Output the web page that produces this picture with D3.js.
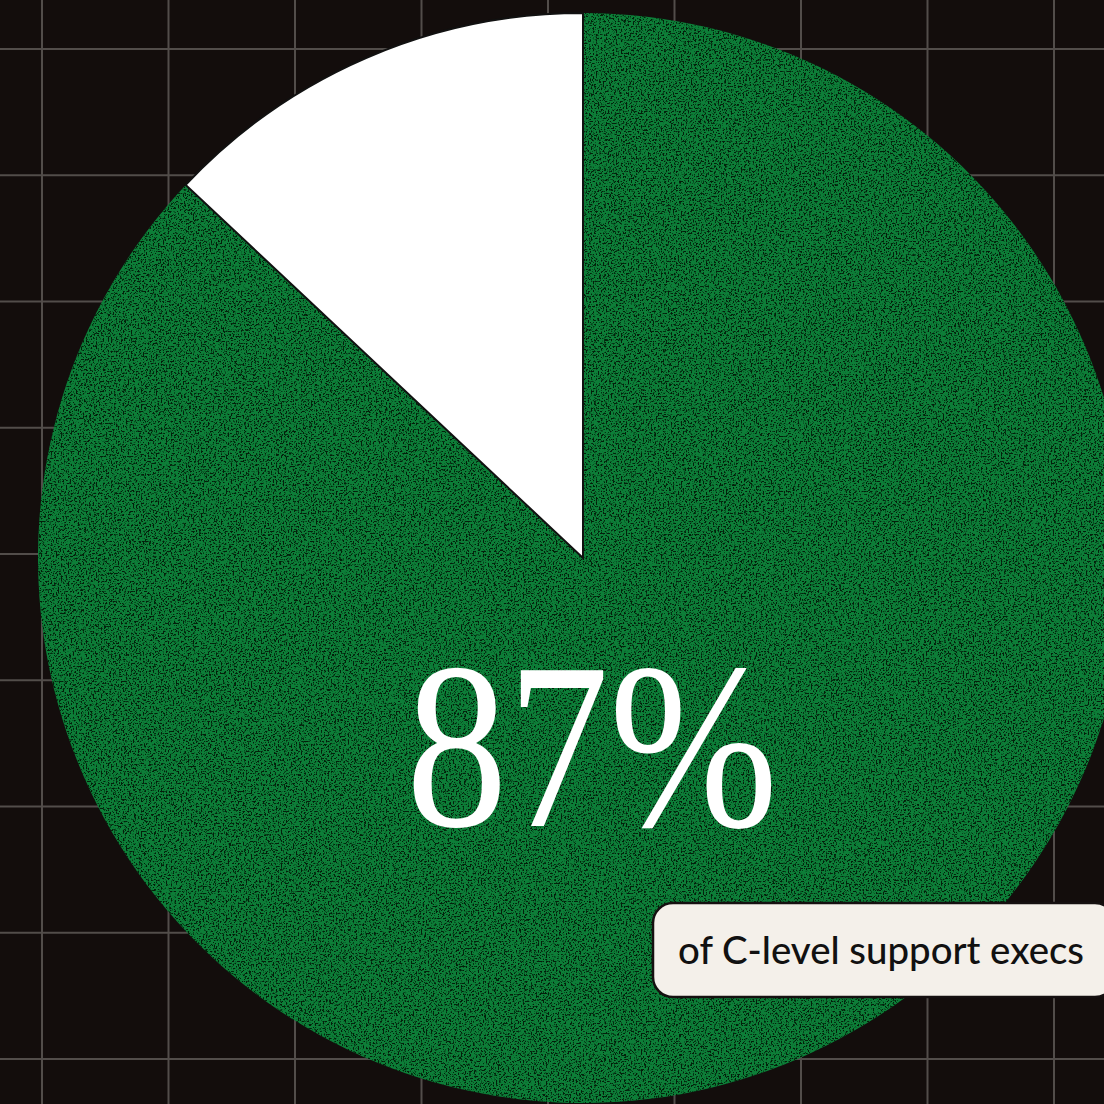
<!DOCTYPE html>
<html>
<head>
<meta charset="utf-8">
<script src="https://cdn.jsdelivr.net/npm/d3@7"></script>
<style>
html,body{margin:0;padding:0;background:#130d0c;}
svg{display:block;}
</style>
</head>
<body>
<svg id="chart" width="1104" height="1104"></svg>
<script>
const categories = ["C-level support execs", "Others"];
const values = [87, 13];
const headline = "87%";
const caption = "of C-level support execs";
const gridX = [0, 1, 2, 3, 4, 5, 6, 7, 8];
const gridY = [0, 1, 2, 3, 4, 5, 6, 7, 8];

const W = 1104, H = 1104;
const svg = d3.select("#chart");
const defs = svg.append("defs");

const f = defs.append("filter").attr("id", "grain")
  .attr("color-interpolation-filters", "sRGB")
  .attr("x", 0).attr("y", 0).attr("width", 1).attr("height", 1);
f.append("feTurbulence").attr("type", "fractalNoise").attr("baseFrequency", 0.6)
  .attr("numOctaves", 2).attr("seed", 4).attr("result", "n");
f.append("feColorMatrix").attr("in", "n").attr("type", "matrix")
  .attr("values", "0 0 0 0 0.01  0 0 0 0 0.12  0 0 0 0 0.04  -7 0 0 0 3.4").attr("result", "dark");
f.append("feComposite").attr("in", "dark").attr("in2", "SourceGraphic").attr("operator", "in").attr("result", "d2");
const m = f.append("feMerge");
m.append("feMergeNode").attr("in", "SourceGraphic");
m.append("feMergeNode").attr("in", "d2");

svg.append("rect").attr("width", W).attr("height", H).attr("fill", "#130d0c");

// grid
const gx = d3.scaleLinear().domain([0, 8]).range([42, 1054]);
const gy = d3.scaleLinear().domain([0, 8]).range([49, 1059]);
const grid = svg.append("g").attr("stroke", "#524d4a").attr("stroke-width", 2);
grid.selectAll("line.v").data(gridX).join("line").attr("class", "v")
  .attr("x1", d => gx(d)).attr("x2", d => gx(d)).attr("y1", 0).attr("y2", H);
grid.selectAll("line.h").data(gridY).join("line").attr("class", "h")
  .attr("y1", d => gy(d)).attr("y2", d => gy(d)).attr("x1", 0).attr("x2", W);

// pie
const cx = 583, cy = 558, R = 545;
const pie = d3.pie().sort(null).value(d => d)(values);
const arc = d3.arc().innerRadius(0).outerRadius(R);
const colors = d3.scaleOrdinal().domain(categories).range(["#0d7e38", "#ffffff"]);
const g = svg.append("g").attr("transform", `translate(${cx},${cy})`);
g.selectAll("path").data(pie).join("path")
  .attr("d", arc)
  .attr("fill", (d, i) => colors(categories[i]))
  .attr("filter", (d, i) => i === 0 ? "url(#grain)" : null)
  .attr("stroke", (d, i) => i === 1 ? "#111" : "none")
  .attr("stroke-width", 2);

// headline
svg.append("text")
  .attr("x", 406).attr("y", 826)
  .attr("textLength", 372).attr("lengthAdjust", "spacingAndGlyphs")
  .attr("font-family", "'Liberation Serif', 'DejaVu Serif', serif")
  .attr("font-size", 238)
  .attr("fill", "#ffffff")
  .text(headline);

// caption box
const box = svg.append("g");
box.append("rect")
  .attr("x", 653).attr("y", 903).attr("width", 462).attr("height", 94)
  .attr("rx", 20).attr("ry", 20)
  .attr("fill", "#f4f0ea").attr("stroke", "#151010").attr("stroke-width", 2.5);
box.append("text")
  .attr("x", 678).attr("y", 964)
  .attr("textLength", 406).attr("lengthAdjust", "spacingAndGlyphs")
  .attr("font-family", "Lato, 'Noto Sans', sans-serif")
  .attr("font-size", 39)
  .attr("font-weight", 500)
  .attr("fill", "#111")
  .text(caption);
</script>
</body>
</html>
